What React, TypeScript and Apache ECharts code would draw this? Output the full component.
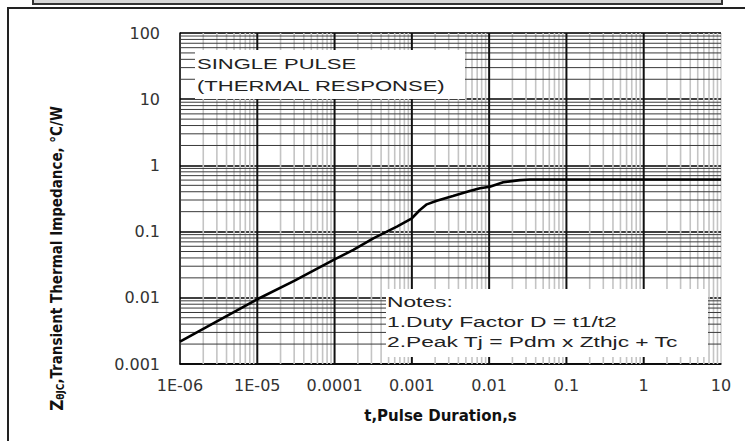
import React, { useEffect, useRef } from "react";
import * as echarts from "echarts";

// Tick values and labels
const xTickValues = [1e-6, 1e-5, 1e-4, 1e-3, 1e-2, 1e-1, 1, 10];
const xTickLabels = ["1E-06", "1E-05", "0.0001", "0.001", "0.01", "0.1", "1", "10"];
const yTickValues = [0.001, 0.01, 0.1, 1, 10, 100];
const yTickLabels = ["0.001", "0.01", "0.1", "1", "10", "100"];

// Single pulse thermal response curve
const pulseDuration = [
  1e-6, 3e-6, 1e-5, 3e-5, 1e-4, 1.75e-4, 3.17e-4, 6.4e-4, 1e-3, 1.27e-3, 1.56e-3,
  2.1e-3, 3.4e-3, 5.6e-3, 7.6e-3, 1.02e-2, 1.52e-2, 2.5e-2, 3.4e-2, 0.1, 1, 10,
];
const thermalImpedance = [
  0.00217, 0.0044, 0.0095, 0.018, 0.038, 0.053, 0.079, 0.119, 0.159, 0.212, 0.258,
  0.293, 0.345, 0.41, 0.451, 0.476, 0.556, 0.6, 0.612, 0.612, 0.612, 0.612,
];

const xAxisTitle = "t,Pulse Duration,s";
const yAxisTitleParts = ["Z", "θJC", ",Transient Thermal Impedance, °C/W"];
const noteSingle = "SINGLE PULSE\n(THERMAL RESPONSE)";
const noteText = "Notes:\n1.Duty Factor D = t1/t2\n2.Peak Tj = Pdm x Zthjc + Tc";

function labelFor(values: number[], labels: string[], v: number): string {
  const i = values.findIndex((t) => Math.abs(Math.log10(t) - Math.log10(v)) < 0.01);
  return i >= 0 ? labels[i] : "";
}

export default function App() {
  const ref = useRef<HTMLDivElement>(null);

  useEffect(() => {
    if (!ref.current) return;
    const chart = echarts.init(ref.current, null, { renderer: "svg" });

    const xMin = xTickValues[0];
    const xMax = xTickValues[xTickValues.length - 1];
    const yMin = yTickValues[0];
    const yMax = yTickValues[yTickValues.length - 1];

    // grid line positions (decade minors)
    const xMinor: number[] = [];
    for (let d = -6; d <= 0; d++) for (let k = 2; k <= 9; k++) xMinor.push(k * Math.pow(10, d));
    const yMinor: number[] = [];
    for (let d = -3; d <= 1; d++) for (let k = 2; k <= 9; k++) yMinor.push(k * Math.pow(10, d));
    const xMajorInner = xTickValues.slice(1, xTickValues.length - 1);

    const vLineSeries = (vals: number[], color: string, width: number, z: number) => ({
      type: "custom",
      silent: true,
      z,
      data: vals.map((v) => [v, yMin]),
      renderItem: (_p: any, api: any) => {
        const v = api.value(0);
        const a = api.coord([v, yMin]);
        const b = api.coord([v, yMax]);
        return {
          type: "line",
          shape: { x1: a[0], y1: a[1], x2: b[0], y2: b[1] },
          style: { stroke: color, lineWidth: width },
        };
      },
    });
    const hLineSeries = (vals: number[], color: string, width: number, z: number) => ({
      type: "custom",
      silent: true,
      z,
      data: vals.map((v) => [xMin, v]),
      renderItem: (_p: any, api: any) => {
        const v = api.value(1);
        const a = api.coord([xMin, v]);
        const b = api.coord([xMax, v]);
        return {
          type: "line",
          shape: { x1: a[0], y1: a[1], x2: b[0], y2: b[1] },
          style: { stroke: color, lineWidth: width },
        };
      },
    });

    const labelFont = "'DejaVu Sans', 'Liberation Sans', sans-serif";
    const narrowFont = "'Liberation Sans Narrow', 'DejaVu Sans Condensed', 'Liberation Sans', sans-serif";

    chart.setOption({
      animation: false,
      backgroundColor: "#ffffff",
      grid: {
        left: 180,
        right: 24,
        top: 33,
        bottom: 77,
        show: true,
        borderColor: "#b8b8b8",
        borderWidth: 1,
        backgroundColor: "transparent",
      },
      xAxis: {
        type: "log",
        logBase: 10,
        min: xMin,
        max: xMax,
        splitNumber: 7,
        axisLine: { show: true, lineStyle: { color: "#000", width: 1.5 } },
        axisTick: { show: false },
        splitLine: { show: false },
        axisLabel: {
          margin: 13,
          color: "#333",
          fontSize: 16,
          fontFamily: labelFont,
          formatter: (v: number) => labelFor(xTickValues, xTickLabels, v),
        },
        name: xAxisTitle,
        nameLocation: "middle",
        nameGap: 44,
        nameTextStyle: {
          color: "#111",
          fontSize: 15,
          fontWeight: "bold",
          fontFamily: labelFont,
          padding: [0, 20, 0, 0],
        },
      },
      yAxis: {
        type: "log",
        logBase: 10,
        min: yMin,
        max: yMax,
        splitNumber: 5,
        axisLine: { show: true, lineStyle: { color: "#000", width: 1.5 } },
        axisTick: { show: false },
        splitLine: { show: true, lineStyle: { color: "#000", width: 1.5 } },
        axisLabel: {
          margin: 20,
          color: "#333",
          fontSize: 16,
          fontFamily: labelFont,
          formatter: (v: number) => labelFor(yTickValues, yTickLabels, v),
        },
        name:
          "{z|" + yAxisTitleParts[0] + "}{s|" + yAxisTitleParts[1] + "}{t|" + yAxisTitleParts[2] + "}",
        nameLocation: "middle",
        nameRotate: 90,
        nameGap: 115,
        nameTextStyle: {
          color: "#111",
          fontWeight: "bold",
          fontFamily: narrowFont,
          fontSize: 15,
          padding: [0, 120, 0, 0],
          rich: {
            z: { fontSize: 17, fontWeight: "bold", fontFamily: narrowFont, color: "#111" },
            s: {
              fontSize: 10,
              fontWeight: "bold",
              fontFamily: narrowFont,
              color: "#111",
              verticalAlign: "bottom",
              padding: [6, 0, 0, 0],
            },
            t: { fontSize: 15, fontWeight: "bold", fontFamily: narrowFont, color: "#111" },
          },
        },
      },
      series: [
        vLineSeries(xMinor, "#c4c4c4", 1.6, 1),
        hLineSeries(yMinor, "#3a3a3a", 1, 2),
        vLineSeries(xMajorInner, "#111", 2, 3),
        {
          type: "line",
          name: "Zthjc",
          data: pulseDuration.map((t, i) => [t, thermalImpedance[i]]),
          showSymbol: false,
          smooth: false,
          z: 5,
          lineStyle: { color: "#000", width: 2.6 },
        },
      ],
      graphic: [
        {
          type: "rect",
          z: 20,
          shape: { x: 33, y: -6, width: 689, height: 10 },
          style: { fill: "#d6d6d6", stroke: "#333", lineWidth: 2 },
        },
        {
          type: "polyline",
          z: 20,
          shape: { points: [[8, 441], [8, 8], [745, 8]] },
          style: { stroke: "#222", lineWidth: 2, fill: null },
        },
        {
          type: "rect",
          z: 20,
          shape: { x: 195, y: 50, width: 270, height: 49 },
          style: { fill: "#fff" },
        },
        {
          type: "text",
          z: 21,
          x: 197,
          y: 53,
          scaleX: 1.47,
          style: {
            text: noteSingle,
            fill: "#222",
            fontSize: 15,
            fontFamily: "'Liberation Sans', Arial, sans-serif",
            lineHeight: 22,
            verticalAlign: "top",
            align: "left",
          },
        },
        {
          type: "rect",
          z: 20,
          shape: { x: 386, y: 289, width: 322, height: 68 },
          style: { fill: "#fff" },
        },
        {
          type: "text",
          z: 21,
          x: 387,
          y: 292,
          scaleX: 1.52,
          style: {
            text: noteText,
            fill: "#222",
            fontSize: 15,
            fontFamily: "'Liberation Sans', Arial, sans-serif",
            lineHeight: 20,
            verticalAlign: "top",
            align: "left",
          },
        },
      ],
    });

    return () => chart.dispose();
  }, []);

  return (
    <div
      ref={ref}
      style={{ position: "absolute", left: 0, top: 0, width: 745, height: 441, background: "#fff" }}
    />
  );
}
